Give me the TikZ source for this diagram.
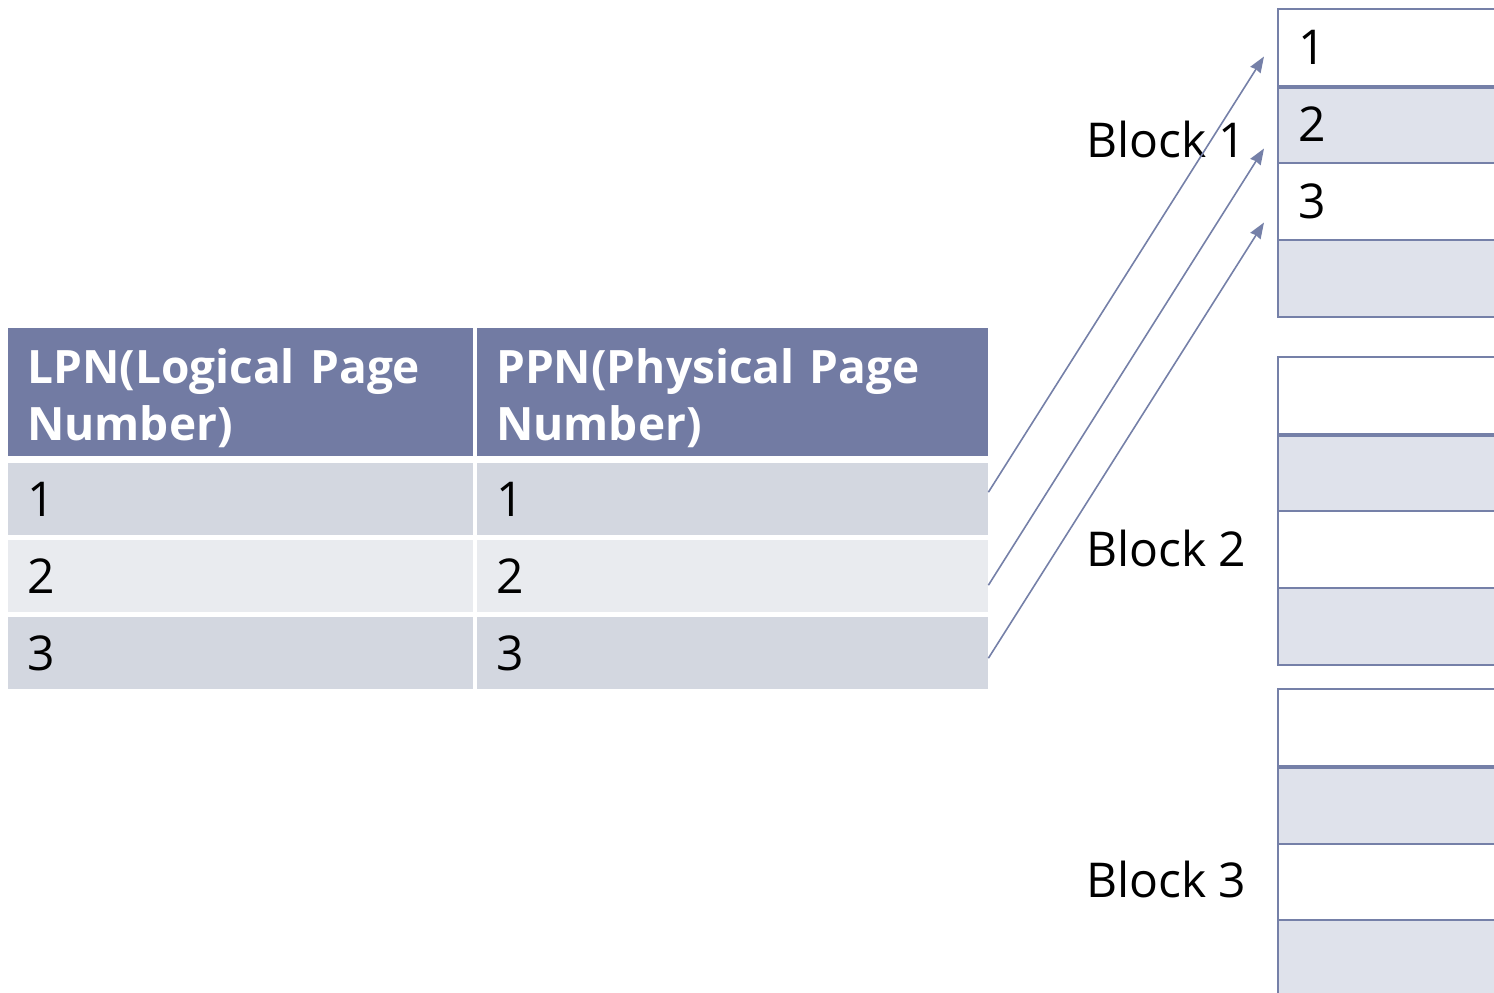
\documentclass[tikz,border=0pt]{standalone}
\usepackage{fontspec}
\setmainfont{Open Sans}
\usetikzlibrary{arrows.meta,calc}
\definecolor{hdr}{HTML}{727BA3}
\definecolor{rowA}{HTML}{D3D7E0}
\definecolor{rowB}{HTML}{E9EBEF}
\definecolor{blk}{HTML}{7580A8}
\definecolor{blkfill}{HTML}{DFE2EB}
\newcommand{\bigtxt}{\fontsize{48}{57}\selectfont}
\newcommand{\headtxt}{\fontsize{46}{57}\selectfont\bfseries}
\newcommand{\headstrut}{\rule{0pt}{46pt}}
\begin{document}
\begin{tikzpicture}[x=1pt,y=-1pt,
  cell/.style={anchor=north west, inner xsep=19pt, inner ysep=0pt, align=left,
    font=\bigtxt, text=black},
  col1/.style={cell, minimum width=465pt, text width=427pt},
  col2/.style={cell, minimum width=511pt, text width=473pt},
  headcell/.style={fill=hdr, text=white, font=\headtxt, minimum height=128pt},
  bodycell/.style={minimum height=72pt},
  page/.style={draw=blk, line width=2pt, anchor=north west, minimum width=300pt,
    minimum height=77pt, inner xsep=20pt, align=left, text width=260pt,
    font=\bigtxt},
  whitepage/.style={page, fill=white},
  greypage/.style={page, fill=blkfill},
  blocklabel/.style={anchor=base west, font=\bigtxt, inner sep=0pt},
  map/.style={draw=blk, line width=1.6pt, -{Stealth[length=16pt,width=12pt,inset=1pt]}}
]
\useasboundingbox (0,0) rectangle (1494,993);
\clip (0,0) rectangle (1494,993);

% mapping table
\node[col1, headcell] (h1) at (8,328) {\headstrut LPN(Logical Page\\Number)};
\node[col2, headcell] (h2) at (477,328) {\headstrut PPN(Physical Page\\Number)};
\node[col1, bodycell, fill=rowA] (l1) at (8,463) {1};
\node[col2, bodycell, fill=rowA] (p1) at (477,463) {1};
\node[col1, bodycell, fill=rowB] (l2) at (8,540) {2};
\node[col2, bodycell, fill=rowB] (p2) at (477,540) {2};
\node[col1, bodycell, fill=rowA] (l3) at (8,617) {3};
\node[col2, bodycell, fill=rowA] (p3) at (477,617) {3};

% flash blocks
\node[whitepage] (a1) at (1277,8) {1};
\node[greypage]  (a2) at (1277,85) {2};
\node[whitepage] (a3) at (1277,162) {3};
\node[greypage]  (a4) at (1277,239) {};
\draw[blk, line width=4pt] (a1.south west) -- (a1.south east);

\node[whitepage] (b1) at (1277,356) {};
\node[greypage]  (b2) at (1277,433) {};
\node[whitepage] (b3) at (1277,510) {};
\node[greypage]  (b4) at (1277,587) {};
\draw[blk, line width=4pt] (b1.south west) -- (b1.south east);

\node[whitepage] (c1) at (1277,688) {};
\node[greypage]  (c2) at (1277,766) {};
\node[whitepage] (c3) at (1277,843) {};
\node[greypage, minimum height=100pt] (c4) at (1277,919) {};
\draw[blk, line width=4pt] (c1.south west) -- (c1.south east);

\node[blocklabel] (lb1) at (1086,157) {Block 1};
\node[blocklabel] (lb2) at (1086,566) {Block 2};
\node[blocklabel] (lb3) at (1086,897) {Block 3};

% page mapping arrows
\draw[map] ($(p1.east)+(0,-7)$) -- ($(a1.west)+(-13,9)$);
\draw[map] ($(p2.east)+(0,9)$) -- ($(a2.west)+(-13,24)$);
\draw[map] ($(p3.east)+(0,5)$) -- ($(a3.west)+(-13,21)$);
\end{tikzpicture}
\end{document}
